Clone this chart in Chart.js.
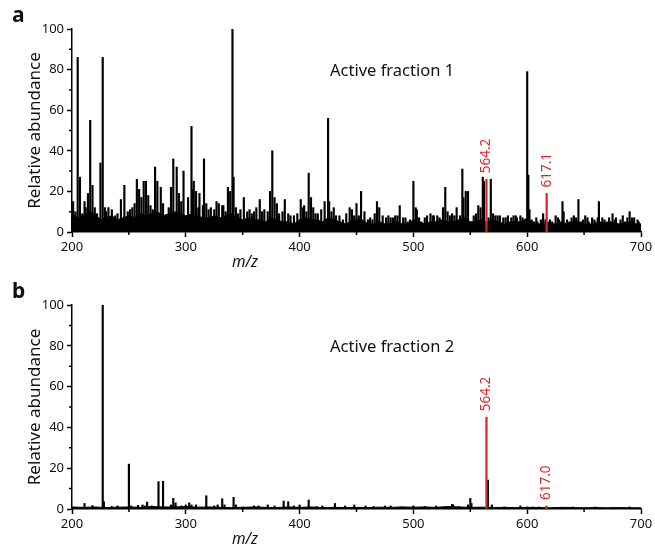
<!DOCTYPE html>
<html>
<head>
<meta charset="utf-8">
<script src="https://cdn.jsdelivr.net/npm/chart.js@4.4.0/dist/chart.umd.min.js"></script>
<style>
  body { margin: 0; background: #fff; width: 655px; height: 550px; position: relative; overflow: hidden; }
  .panel { position: absolute; left: 0; width: 655px; height: 275px; }
</style>
</head>
<body>
<div class="panel" style="top:0"><canvas id="chartA" width="655" height="275"></canvas></div>
<div class="panel" style="top:275px"><canvas id="chartB" width="655" height="275"></canvas></div>
<script>
// axis ranges
const mzRange = [200, 700];
const abundanceRange = [0, 100];

// panel a: peaks [m/z, relative abundance]
const peaksA = [
  [201,15],[203,10],[205,86],[207,27],[209,9],[211,15],[212,12],[214,19],[216,55],[218,23],
  [220,12],[222,9],[225,34],[227,86],[229,12],[230,10],[232,12],[235,11],[238,8],[240,9],
  [243,16],[246,23],[249,10],[251,11],[253,12],[255,14],[257,26],[259,21],[261,17],[263,25],
  [265,25],[267,18],[269,13],[271,11],[273,32],[275,25],[278,22],[280,14],[282,8],[285,12],
  [287,22],[289,36],[292,32],[294,19],[296,15],[298,30],[302,17],[305,52],[306,21],[307,25],
  [309,20],[311,12],[312,19],[315,13],[316,36],[318,14],[320,11],[322,12],[325,11],[327,15],
  [329,14],[332,13],[333,13],[335,10],[337,22],[339,20],[341,100],[342,27],[344,12],[346,9],
  [348,11],[351,17],[354,10],[356,11],[358,9],[360,10],[362,12],[365,16],[367,10],[369,11],
  [372,10],[374,20],[376,40],[378,17],[380,14],[382,9],[385,10],[387,16],[390,9],[392,8],
  [395,8],[398,9],[401,16],[403,12],[404,13],[406,10],[408,29],[410,17],[412,12],[414,9],
  [416,9],[419,11],[422,15],[425,56],[426,15],[428,10],[430,12],[432,8],[435,8],[438,6],
  [441,9],[444,12],[446,11],[448,8],[450,14],[452,8],[454,20],[457,10],[460,6],[462,7],
  [464,6],[466,9],[468,15],[470,12],[473,8],[476,7],[478,8],[480,7],[482,7],[484,8],
  [486,8],[488,13],[491,7],[493,7],[495,5],[497,6],[500,25],[502,12],[503,11],[505,7],
  [507,5],[510,7],[512,8],[515,9],[517,8],[518,8],[521,8],[523,7],[526,12],[528,22],
  [530,10],[532,8],[534,9],[536,8],[538,12],[541,8],[543,31],[544,17],[546,20],[548,20],
  [551,5],[553,8],[555,9],[557,13],[559,12],[561,27],[562,25],[566,7],[568,26],[570,9],
  [572,8],[574,8],[576,8],[579,7],[581,7],[583,8],[586,7],[588,8],[590,8],[591,7],
  [594,8],[596,7],[597,5],[600,79],[601,28],[602,11],[604,6],[606,5],[608,7],[609,5],
  [612,6],[614,9],[616,6],[618,5],[620,6],[622,5],[625,8],[627,7],[628,6],[631,15],
  [632,10],[635,6],[637,5],[639,7],[641,8],[643,7],[645,16],[647,5],[649,6],[651,8],
  [653,7],[654,5],[657,7],[659,6],[660,5],[662,7],[663,15],[666,7],[668,6],[670,5],
  [672,7],[673,5],[675,9],[677,6],[678,7],[680,4],[682,6],[684,8],[686,5],[688,7],
  [690,10],[692,7],[694,7],[695,4],[697,6],[698,5]
];
// panel a: noise floor, one value every 5 m/z from 200 to 700
const floorA = [
  9,7,8,10,9,6,7,8,6,7, 8,7,9,8,9,10,8,9,10,9,
  8,9,8,7,7,8,7,8,9,7, 6,7,6,6,5,7,6,5,5,4,
  6,7,6,6,5,7,6,5,4,5, 6,6,4,4,5,4,4,5,4,4,
  6,5,4,5,5,6,5,5,6,7, 5,5,6,5,6,5,4,5,5,5,
  7,4,4,4,4,4,5,4,5,5, 4,4,4,5,4,5,4,4,5,4, 4
];
const highlightA = [[564.2, 26, '564.2'], [617.1, 19, '617.1']];

// panel b
const peaksB = [
  [211,2.7],[218,1.7],[227,100],[228,3.6],[235,1.2],[240,1.5],[250,22],[252,1.5],[258,1.8],[262,2],
  [264,1.5],[266,3.4],[270,1.5],[276,13.4],[280,13.6],[287,2],[289,5.2],[291,3],[296,1.5],[300,2],
  [303,3],[305,2],[309,2],[318,6.5],[325,1.5],[328,2],[332,5],[334,2],[342,5.7],[344,2],
  [350,1],[360,1.5],[364,1.5],[372,2],[378,1.5],[386,3.9],[390,3.6],[395,1.5],[400,2],[408,4.4],
  [415,1.2],[420,1.5],[431,2.7],[440,1.5],[448,2],[458,1.5],[465,1.2],[475,1.5],[480,1.5],[490,1],
  [500,1.5],[510,1.2],[520,1.5],[528,1],[534,2.3],[535,2],[540,1.2],[548,2],[550,5.2],[551,2.7],
  [565.5,14.2],[569,2],[580,1],[594,1.5],[600,1],[605,1],[610,1],[625,0.8],[640,1],[650,0.8],
  [660,1],[675,0.8],[690,1]
];
// panel b: noise floor, one value every 10 m/z
const floorB = [
  1,0.8,1,0.7,0.9,1,0.8,1.2,1,1, 1.2,0.9,1,0.8,0.7,0.8,1,0.8,0.7,1,
  0.8,1,0.7,0.8,0.7,0.8,0.7,0.9,0.8,1, 0.9,1,0.8,1.2,1,0.8,0.9,0.7,0.8,0.7,
  0.8,0.7,0.6,0.8,0.7,0.6,0.7,0.6,0.7,0.6, 0.6
];
const highlightB = [[564.2, 45, '564.2'], [617.0, 1.5, '617.0']];

const RED = '#d42a2e';
const FONT = '"Noto Sans", "Open Sans", sans-serif';

const decor = {
  id: 'decor',
  afterDraw(chart, args, opts) {
    const { ctx, chartArea, scales: { x, y } } = chart;
    ctx.save();
    ctx.strokeStyle = '#000';
    ctx.lineWidth = 1.5;
    // minor ticks
    ctx.beginPath();
    for (let v = 250; v < 700; v += 100) {
      const px = x.getPixelForValue(v);
      ctx.moveTo(px, chartArea.bottom);
      ctx.lineTo(px, chartArea.bottom + 3);
    }
    for (let v = 10; v < 100; v += 20) {
      const py = y.getPixelForValue(v);
      ctx.moveTo(chartArea.left - 3, py);
      ctx.lineTo(chartArea.left, py);
    }
    ctx.stroke();

    // highlighted peak labels
    ctx.fillStyle = RED;
    ctx.font = '13.5px ' + FONT;
    ctx.textBaseline = 'middle';
    ctx.textAlign = 'left';
    opts.marks.forEach(([mz, v, txt]) => {
      const px = x.getPixelForValue(mz);
      const py = y.getPixelForValue(v);
      ctx.save();
      ctx.translate(px, py - 6);
      ctx.rotate(-Math.PI / 2);
      ctx.fillText(txt, 0, 0);
      ctx.restore();
    });

    // texts
    ctx.fillStyle = '#111';
    ctx.font = '16.5px ' + FONT;
    ctx.textAlign = 'left';
    ctx.fillText(opts.title, 330, chartArea.top + 42);
    ctx.font = 'italic 15.5px ' + FONT;
    ctx.textAlign = 'center';
    ctx.fillText('m/z', 245, chartArea.bottom + 31);
    ctx.font = 'bold 21px ' + FONT;
    ctx.textAlign = 'left';
    ctx.fillText(opts.letter, 12, opts.letterY);
    ctx.restore();
  }
};

function makeChart(id, peaks, floor, floorStep, marks, title, letter, top, axisH, letterY) {
  new Chart(document.getElementById(id), {
    type: 'bar',
    data: {
      datasets: [{
        type: 'bar',
        data: marks.map(([mz, v]) => ({ x: mz, y: v })),
        backgroundColor: RED,
        barThickness: 1.6,
        grouped: false,
        order: 0
      }, {
        type: 'bar',
        data: peaks.map(([mz, v]) => ({ x: mz, y: v })),
        backgroundColor: '#000',
        barThickness: 1.5,
        grouped: false,
        order: 1
      }, {
        type: 'line',
        data: floor.map((v, i) => ({ x: mzRange[0] + i * floorStep, y: v })),
        borderColor: '#000',
        backgroundColor: '#000',
        borderWidth: 1,
        pointRadius: 0,
        fill: 'origin',
        order: 2
      }]
    },
    options: {
      responsive: false,
      animation: false,
      layout: { padding: { top: top, right: 14, left: 0, bottom: 0 } },
      plugins: {
        legend: { display: false },
        tooltip: { enabled: false },
        decor: { marks: marks, title: title, letter: letter, letterY: letterY }
      },
      scales: {
        x: {
          type: 'linear',
          min: mzRange[0],
          max: mzRange[1],
          offset: false,
          afterFit: s => { s.height = axisH; },
          ticks: { stepSize: 100, color: '#111', padding: 2, font: { family: FONT, size: 13 }, maxRotation: 0 },
          grid: { drawOnChartArea: false, offset: false, color: '#000', tickLength: 5, tickWidth: 1.5 },
          border: { display: true, color: '#000', width: 1.5 }
        },
        y: {
          min: abundanceRange[0],
          max: abundanceRange[1],
          afterFit: s => { s.width = 72; },
          ticks: { stepSize: 20, color: '#111', padding: 3, font: { family: FONT, size: 13 } },
          grid: { drawOnChartArea: false, color: '#000', tickLength: 5, tickWidth: 1.5 },
          border: { display: true, color: '#000', width: 1.5 },
          title: { display: true, text: 'Relative abundance', color: '#111', font: { family: FONT, size: 17 }, padding: { top: 25, bottom: 0 } }
        }
      }
    },
    plugins: [decor]
  });
}

makeChart('chartA', peaksA, floorA, 5, highlightA, 'Active fraction 1', 'a', 29, 43, 16);
makeChart('chartB', peaksB, floorB, 10, highlightB, 'Active fraction 2', 'b', 30, 41, 17);
</script>
</body>
</html>
